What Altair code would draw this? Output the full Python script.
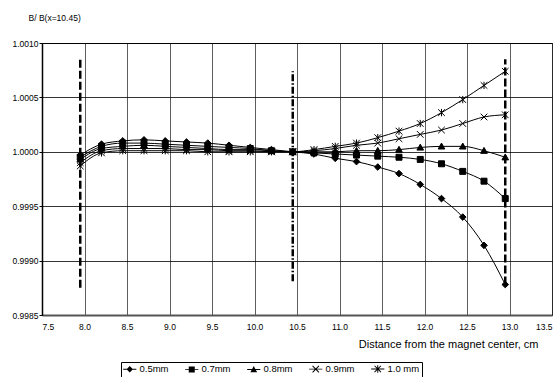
import altair as alt
import pandas as pd

# ---- data ----
x_pos = [7.95, 8.2, 8.45, 8.7, 8.95, 9.2, 9.45, 9.7, 9.95, 10.2, 10.45,
         10.7, 10.95, 11.2, 11.45, 11.7, 11.95, 12.2, 12.45, 12.7, 12.95]
series_names = ["0.5mm", "0.7mm", "0.8mm", "0.9mm", "1.0 mm"]
s05 = [0.99997, 1.00007, 1.00010, 1.00011, 1.00010, 1.00009, 1.00008, 1.00006, 1.00004, 1.00002, 1.00000,
       0.99998, 0.99994, 0.99991, 0.99986, 0.99980, 0.99970, 0.99957, 0.99940, 0.99914, 0.99878]
s07 = [0.99995, 1.00005, 1.00008, 1.00008, 1.00007, 1.00006, 1.00005, 1.00004, 1.00003, 1.00001, 1.00000,
       0.99999, 0.99998, 0.99997, 0.99996, 0.99995, 0.99993, 0.99989, 0.99982, 0.99973, 0.99957]
s08 = [0.99993, 1.00003, 1.00005, 1.00006, 1.00005, 1.00004, 1.00003, 1.00002, 1.00002, 1.00001, 1.00000,
       1.00000, 1.00000, 1.00001, 1.00001, 1.00002, 1.00004, 1.00005, 1.00005, 1.00001, 0.99995]
s09 = [0.99990, 1.00001, 1.00003, 1.00003, 1.00003, 1.00002, 1.00002, 1.00001, 1.00001, 1.00000, 1.00000,
       1.00001, 1.00003, 1.00006, 1.00008, 1.00012, 1.00016, 1.00020, 1.00026, 1.00032, 1.00034]
s10 = [0.99987, 0.99999, 1.00001, 1.00001, 1.00001, 1.00001, 1.00000, 1.00000, 1.00000, 1.00000, 1.00000,
       1.00002, 1.00005, 1.00008, 1.00013, 1.00019, 1.00026, 1.00036, 1.00048, 1.00061, 1.00074]

# vertical marker lines: position, bottom, top, style
vline_x = [7.95, 10.45, 12.95]
vline_lo = [0.99875, 0.99881, 0.99878]
vline_hi = [1.00085, 1.00074, 1.00085]
vline_style = ["dash", "dashdot", "dash"]

x_ticks = [7.5, 8.0, 8.5, 9.0, 9.5, 10.0, 10.5, 11.0, 11.5, 12.0, 12.5, 13.0, 13.5]
y_ticks = [0.9985, 0.9990, 0.9995, 1.0000, 1.0005, 1.0010]

# ---- build table ----
all_series = [s05, s07, s08, s09, s10]
rows = []
for name, vals in zip(series_names, all_series):
    for xv, yv in zip(x_pos, vals):
        rows.append({"x": xv, "y": yv, "series": name})
df = pd.DataFrame(rows)
vdf = pd.DataFrame({"x": vline_x, "lo": vline_lo, "hi": vline_hi, "style": vline_style})

FONT = "Liberation Sans"

# marker shapes in the plot
plot_shapes = [
    "M0,-1L1,0L0,1L-1,0Z",
    "M-0.9,-0.9H0.9V0.9H-0.9Z",
    "M0,-1L1,0.8H-1Z",
    "M-1,-1L1,1M-1,1L1,-1",
    "M-1,-1L1,1M-1,1L1,-1M0,-1.1L0,1.1",
]
# legend symbols: a short line with the marker, drawn as filled outlines
LINE = "M-1.65,-0.12L1.65,-0.12L1.65,0.12L-1.65,0.12Z"
XARMS = ("M-0.715,-0.885L0.885,0.715L0.715,0.885L-0.885,-0.715Z"
         "M-0.715,0.885L-0.885,0.715L0.715,-0.885L0.885,-0.715Z")
VBAR = "M-0.12,-0.95L0.12,-0.95L0.12,0.95L-0.12,0.95Z"
legend_shapes = [
    LINE + "M0,-0.8L0.8,0L0,0.8L-0.8,0Z",
    LINE + "M-0.75,-0.75L0.75,-0.75L0.75,0.75L-0.75,0.75Z",
    LINE + "M0,-0.85L0.85,0.7L-0.85,0.7Z",
    LINE + XARMS,
    LINE + XARMS + VBAR,
]

xscale = alt.Scale(domain=[7.5, 13.5], nice=False, zero=False)
yscale = alt.Scale(domain=[0.9985, 1.0010], nice=False, zero=False)

xaxis = alt.Axis(values=x_ticks, format=".1f", grid=True, gridColor="#333333", gridWidth=0.8,
                 domainColor="#555555", domainWidth=2, tickSize=0, labelPadding=7,
                 labelFontSize=8.5, labelFont=FONT, labelColor="black",
                 title="Distance from the magnet center, cm", titleFont=FONT, titleFontSize=11,
                 titleFontWeight="normal", titleColor="black", titleAnchor="end",
                 titleAlign="right", titleX=496, titleY=32, titleBaseline="alphabetic")
yaxis = alt.Axis(values=y_ticks, format=".4f", grid=True, gridColor="black", gridWidth=0.8,
                 domainColor="black", domainWidth=1.5, tickSize=3, tickColor="black",
                 labelPadding=1, labelFontSize=8.5, labelFont=FONT, labelColor="black",
                 title="B/ B(x=10.45)", titleFont=FONT, titleFontSize=8.5, titleFontWeight="normal",
                 titleColor="black", titleAngle=0, titleAlign="left", titleBaseline="alphabetic",
                 titleX=-14, titleY=-23)

base = alt.Chart(df)

lines = base.mark_line(color="black", strokeWidth=1, interpolate="monotone").encode(
    x=alt.X("x:Q", scale=xscale, axis=xaxis),
    y=alt.Y("y:Q", scale=yscale, axis=yaxis),
    detail="series:N",
)

points = base.mark_point(filled=True, fill="black", stroke="black", strokeWidth=1,
                         size=44, opacity=1).encode(
    x=alt.X("x:Q", scale=xscale),
    y=alt.Y("y:Q", scale=yscale),
    shape=alt.Shape("series:N", scale=alt.Scale(domain=series_names, range=plot_shapes),
                    legend=None),
)

# legend-only layer: no rows survive the filter; the legend comes from the explicit domain
legend_layer = base.transform_calculate(series2="datum.series").transform_filter(
    "datum.x < 0"
).mark_point(filled=True, fill="black", stroke="black", strokeWidth=1, size=64, opacity=1).encode(
    x=alt.X("x:Q", scale=xscale),
    y=alt.Y("y:Q", scale=yscale),
    shape=alt.Shape("series2:N", scale=alt.Scale(domain=series_names, range=legend_shapes),
                    legend=alt.Legend(title=None, orient="none", legendX=79, legendY=319,
                                      direction="horizontal", strokeColor="black",
                                      fillColor="white", padding=2, symbolSize=64,
                                      symbolOpacity=1, symbolFillColor="black",
                                      symbolStrokeColor="black", symbolStrokeWidth=1,
                                      symbolOffset=2,
                                      labelFont=FONT, labelFontSize=9.5, labelColor="black",
                                      labelOffset=5, columnPadding=14, offset=0)),
)

vlines = alt.Chart(vdf).mark_rule(color="black", strokeWidth=2.5).encode(
    x=alt.X("x:Q", scale=xscale),
    y=alt.Y("lo:Q", scale=yscale),
    y2="hi:Q",
    strokeDash=alt.StrokeDash("style:N",
                              scale=alt.Scale(domain=["dash", "dashdot"],
                                              range=[[8, 3], [7, 2, 1.5, 2]]),
                              legend=None),
)

chart = alt.layer(vlines, lines, points, legend_layer).resolve_scale(
    shape="independent"
).properties(
    width=510, height=272,
    autosize=alt.AutoSizeParams(type="none"),
    padding={"left": 42, "top": 43, "right": 8, "bottom": 62},
    background="white",
).configure_view(stroke="black", strokeWidth=1)

chart.save("out.html", embed_options={"renderer": "svg", "actions": False})
